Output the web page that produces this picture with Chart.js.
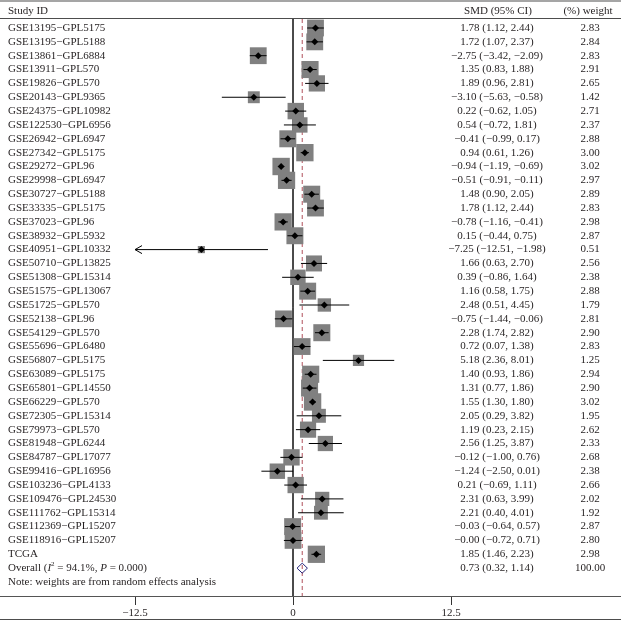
<!DOCTYPE html>
<html>
<head>
<meta charset="utf-8">
<script src="https://cdn.jsdelivr.net/npm/chart.js@4"></script>
<style>
  body { margin: 0; background: #fff; }
  #wrap { width: 621px; height: 622px; }
</style>
</head>
<body>
<div id="wrap"><canvas id="forest" width="621" height="622"></canvas></div>
<script>
// STUDIES
const studies = [
  "GSE13195\u2212GPL5175", "GSE13195\u2212GPL5188", "GSE13861\u2212GPL6884", "GSE13911\u2212GPL570",
  "GSE19826\u2212GPL570", "GSE20143\u2212GPL9365", "GSE24375\u2212GPL10982", "GSE122530\u2212GPL6956",
  "GSE26942\u2212GPL6947", "GSE27342\u2212GPL5175", "GSE29272\u2212GPL96", "GSE29998\u2212GPL6947",
  "GSE30727\u2212GPL5188", "GSE33335\u2212GPL5175", "GSE37023\u2212GPL96", "GSE38932\u2212GPL5932",
  "GSE40951\u2212GPL10332", "GSE50710\u2212GPL13825", "GSE51308\u2212GPL15314", "GSE51575\u2212GPL13067",
  "GSE51725\u2212GPL570", "GSE52138\u2212GPL96", "GSE54129\u2212GPL570", "GSE55696\u2212GPL6480",
  "GSE56807\u2212GPL5175", "GSE63089\u2212GPL5175", "GSE65801\u2212GPL14550", "GSE66229\u2212GPL570",
  "GSE72305\u2212GPL15314", "GSE79973\u2212GPL570", "GSE81948\u2212GPL6244", "GSE84787\u2212GPL17077",
  "GSE99416\u2212GPL16956", "GSE103236\u2212GPL4133", "GSE109476\u2212GPL24530", "GSE111762\u2212GPL15314",
  "GSE112369\u2212GPL15207", "GSE118916\u2212GPL15207", "TCGA"
];
const smd = [
  1.78, 1.72, -2.75, 1.35, 1.89, -3.10, 0.22, 0.54, -0.41, 0.94,
  -0.94, -0.51, 1.48, 1.78, -0.78, 0.15, -7.25, 1.66, 0.39, 1.16,
  2.48, -0.75, 2.28, 0.72, 5.18, 1.40, 1.31, 1.55, 2.05, 1.19,
  2.56, -0.12, -1.24, 0.21, 2.31, 2.21, -0.03, -0.0, 1.85
];
const ciLow = [
  1.12, 1.07, -3.42, 0.83, 0.96, -5.63, -0.62, -0.72, -0.99, 0.61,
  -1.19, -0.91, 0.90, 1.12, -1.16, -0.44, -12.51, 0.63, -0.86, 0.58,
  0.51, -1.44, 1.74, 0.07, 2.36, 0.93, 0.77, 1.30, 0.29, 0.23,
  1.25, -1.00, -2.50, -0.69, 0.63, 0.40, -0.64, -0.72, 1.46
];
const ciHigh = [
  2.44, 2.37, -2.09, 1.88, 2.81, -0.58, 1.05, 1.81, 0.17, 1.26,
  -0.69, -0.11, 2.05, 2.44, -0.41, 0.75, -1.98, 2.70, 1.64, 1.75,
  4.45, -0.06, 2.82, 1.38, 8.01, 1.86, 1.86, 1.80, 3.82, 2.15,
  3.87, 0.76, 0.01, 1.11, 3.99, 4.01, 0.57, 0.71, 2.23
];
const weights = [
  2.83, 2.84, 2.83, 2.91, 2.65, 1.42, 2.71, 2.37, 2.88, 3.00,
  3.02, 2.97, 2.89, 2.83, 2.98, 2.87, 0.51, 2.56, 2.38, 2.88,
  1.79, 2.81, 2.90, 2.83, 1.25, 2.94, 2.90, 3.02, 1.95, 2.62,
  2.33, 2.68, 2.38, 2.66, 2.02, 1.92, 2.87, 2.80, 2.98
];

// POOLED ESTIMATE
const overallSmd = 0.73;
const overallLow = 0.32;
const overallHigh = 1.14;
const overallWeight = 100.00;
const i2Text = "94.1%";
const pText = "0.000";

// AXIS
const xTicks = [-12.5, 0, 12.5];
const xLimit = 12.5;

// LAYOUT
const W = 621, H = 622;
const zeroPx = 293, pxPerUnit = 158 / 12.5;
const rowTop = 28, rowStep = 13.85;
const plotTop = 19, plotBottom = 596;
const overallRow = studies.length;
const noteRow = studies.length + 1;
const SERIF = '"Liberation Serif", "DejaVu Serif", serif';
const INK = "#231f20";

function fmt(v) {
  const neg = v < 0 || Object.is(v, -0);
  return (neg ? "\u2212" : "") + Math.abs(v).toFixed(2);
}
function ciText(e, l, h) {
  return fmt(e) + " (" + fmt(l) + ", " + fmt(h) + ")";
}

// CI SEGMENTS (clipped to axis range, arrows drawn later)
const ciData = [];
studies.forEach((s, i) => {
  ciData.push({ x: Math.max(ciLow[i], -xLimit), y: i });
  ciData.push({ x: Math.min(ciHigh[i], xLimit), y: i });
  ciData.push({ x: NaN, y: NaN });
});

const pointData = studies.map((s, i) => ({ x: smd[i], y: i }));

// POOLED DIAMOND
const dh = 5 / rowStep;
const diamondData = [
  { x: overallLow, y: overallRow },
  { x: overallSmd, y: overallRow - dh },
  { x: overallHigh, y: overallRow },
  { x: overallSmd, y: overallRow + dh },
  { x: overallLow, y: overallRow }
];

const yMin = (plotTop - rowTop) / rowStep;
const yMax = (plotBottom - rowTop) / rowStep;

const tablePlugin = {
  id: "table",
  afterDraw(chart) {
    const ctx = chart.ctx;
    const ys = chart.scales.y, xs = chart.scales.x;
    ctx.save();

    // rules
    ctx.strokeStyle = "#4d4d4d";
    ctx.lineWidth = 1.2;
    [1, 18.5, 619.5].forEach(y => {
      ctx.beginPath(); ctx.moveTo(0, y); ctx.lineTo(W, y); ctx.stroke();
    });

    ctx.fillStyle = INK;
    ctx.textBaseline = "middle";
    ctx.font = "11px " + SERIF;

    // header
    ctx.textAlign = "left";
    ctx.fillText("Study ID", 8, 11);
    ctx.textAlign = "center";
    ctx.fillText("SMD (95% CI)", 498, 11);
    ctx.fillText("(%) weight", 588, 11);

    // rows
    studies.forEach((s, i) => {
      const y = ys.getPixelForValue(i);
      ctx.textAlign = "left";
      ctx.fillText(s, 8, y);
      ctx.textAlign = "center";
      ctx.fillText(ciText(smd[i], ciLow[i], ciHigh[i]), 497, y);
      ctx.fillText(weights[i].toFixed(2), 590, y);
    });

    // overall
    let y = ys.getPixelForValue(overallRow);
    ctx.textAlign = "center";
    ctx.fillText(ciText(overallSmd, overallLow, overallHigh), 497, y);
    ctx.fillText(overallWeight.toFixed(2), 590, y);
    ctx.textAlign = "left";
    let x = 8;
    const parts = [
      ["Overall (", "normal"],
      ["I", "italic"],
      ["2", "sup"],
      [" = " + i2Text + ", ", "normal"],
      ["P", "italic"],
      [" = " + pText + ")", "normal"]
    ];
    parts.forEach(p => {
      if (p[1] === "italic") ctx.font = "italic 11px " + SERIF;
      else if (p[1] === "sup") ctx.font = "7px " + SERIF;
      else ctx.font = "11px " + SERIF;
      ctx.fillText(p[0], x, p[1] === "sup" ? y - 4 : y);
      x += ctx.measureText(p[0]).width;
    });

    // note
    ctx.font = "11px " + SERIF;
    ctx.fillText("Note: weights are from random effects analysis", 8, ys.getPixelForValue(noteRow));

    // arrows for CIs beyond the axis range
    ctx.strokeStyle = "#000";
    ctx.lineWidth = 1;
    studies.forEach((s, i) => {
      const yy = ys.getPixelForValue(i);
      if (ciLow[i] < -xLimit) {
        const ax = xs.getPixelForValue(-xLimit);
        ctx.beginPath();
        ctx.moveTo(ax + 7, yy - 4); ctx.lineTo(ax, yy); ctx.lineTo(ax + 7, yy + 4);
        ctx.stroke();
      }
      if (ciHigh[i] > xLimit) {
        const ax = xs.getPixelForValue(xLimit);
        ctx.beginPath();
        ctx.moveTo(ax - 7, yy - 4); ctx.lineTo(ax, yy); ctx.lineTo(ax - 7, yy + 4);
        ctx.stroke();
      }
    });
    ctx.restore();
  }
};

new Chart(document.getElementById("forest"), {
  type: "scatter",
  data: {
    datasets: [
      {
        // point estimates
        data: pointData,
        pointStyle: "rectRot",
        pointRadius: 3.5,
        backgroundColor: "#000",
        borderWidth: 0,
        order: 0
      },
      {
        type: "line",
        data: ciData,
        borderColor: "#000",
        borderWidth: 1,
        pointRadius: 0,
        spanGaps: false,
        fill: false,
        order: 1
      },
      {
        // weight squares
        data: pointData,
        pointStyle: "rect",
        pointRadius: ctx => 10 * Math.sqrt(weights[ctx.dataIndex]) / Math.SQRT2,
        backgroundColor: "#808080",
        borderWidth: 0,
        order: 2
      },
      {
        type: "line",
        data: diamondData,
        borderColor: "#23237a",
        backgroundColor: "#fff",
        borderWidth: 1,
        pointRadius: 0,
        fill: false,
        order: 3
      },
      {
        // overall line
        type: "line",
        data: [{ x: overallSmd, y: yMin }, { x: overallSmd, y: yMax }],
        borderColor: "#b0505a",
        borderWidth: 1,
        borderDash: [4, 3],
        pointRadius: 0,
        order: 4
      },
      {
        // no effect line
        type: "line",
        data: [{ x: 0, y: yMin }, { x: 0, y: yMax }],
        borderColor: "#333",
        borderWidth: 1,
        pointRadius: 0,
        order: 5
      }
    ]
  },
  options: {
    responsive: false,
    animation: false,
    events: [],
    layout: { autoPadding: false, padding: { top: plotTop, bottom: 0, left: 0, right: 0 } },
    plugins: { legend: { display: false }, tooltip: { enabled: false } },
    scales: {
      x: {
        type: "linear",
        min: -zeroPx / pxPerUnit,
        max: (W - zeroPx) / pxPerUnit,
        afterBuildTicks: scale => { scale.ticks = xTicks.map(v => ({ value: v })); },
        afterFit: scale => {
          scale.paddingLeft = 0;
          scale.paddingRight = 0;
          scale.height = H - plotBottom;
        },
        ticks: {
          autoSkip: false,
          maxRotation: 0,
          padding: 2,
          color: INK,
          font: { family: SERIF, size: 11 },
          callback: v => (v < 0 ? "\u2212" : "") + Math.abs(v)
        },
        grid: { drawOnChartArea: false, drawTicks: true, tickLength: 9, color: "#333" },
        border: { display: true, color: "#555", width: 1 }
      },
      y: {
        type: "linear",
        display: false,
        reverse: true,
        min: yMin,
        max: yMax
      }
    }
  },
  plugins: [tablePlugin]
});
</script>
</body>
</html>
